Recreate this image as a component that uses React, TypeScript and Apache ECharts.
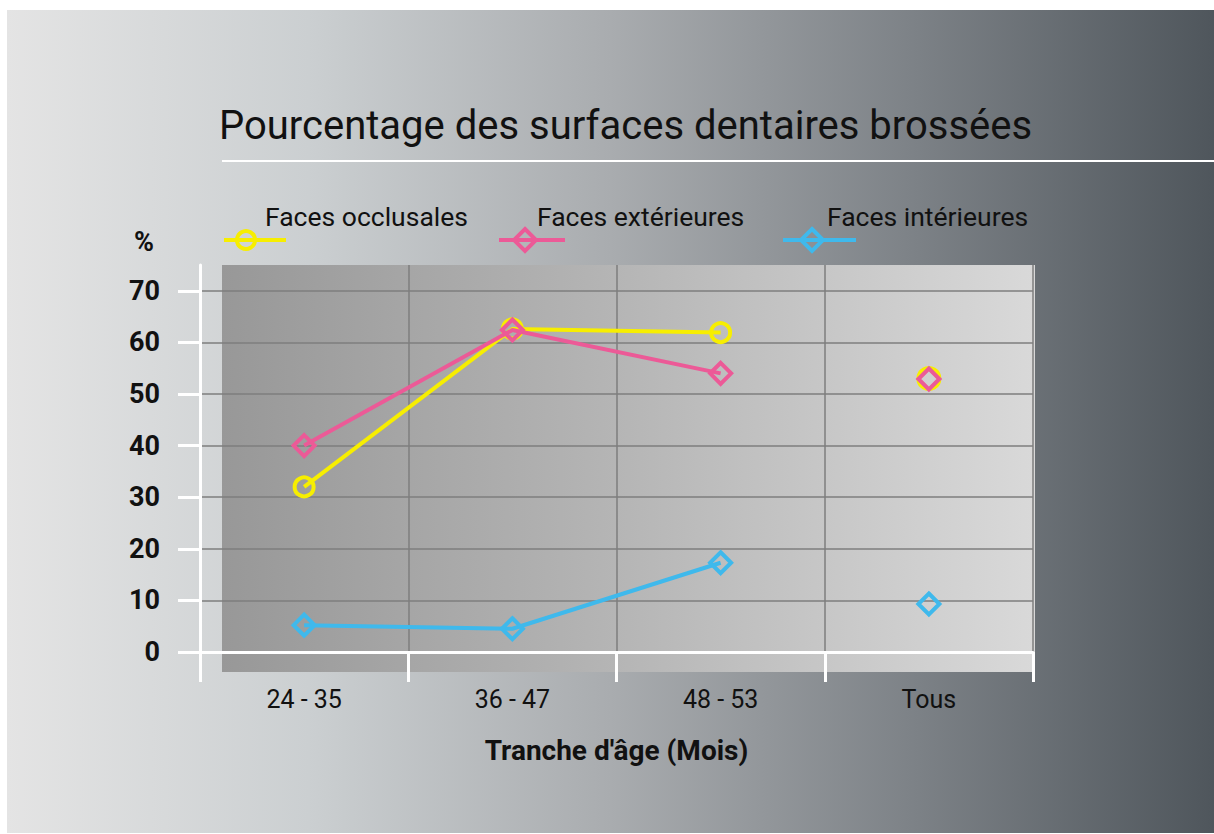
import React, { useEffect, useRef } from "react";
import * as echarts from "echarts";

const categories = ["24 - 35", "36 - 47", "48 - 53", "Tous"];
const seriesNames = ["Faces occlusales", "Faces extérieures", "Faces intérieures"];
const occlusales = [32, 62.6, 61.9, 53];
const exterieures = [40, 62.4, 54, 52.9];
const interieures = [5.2, 4.5, 17.3, 9.3];
const yTicks = [0, 10, 20, 30, 40, 50, 60, 70];

const YELLOW = "#f7ee00";
const PINK = "#ec5a97";
const BLUE = "#3fb9ec";
const FONT = "Roboto";

function lineData(v: number[]) {
  return v.map((x, i) => (i < 3 ? x : "-"));
}
function tousData(v: number[]) {
  return v.map((x, i) => (i === 3 ? x : "-"));
}

function diamond(cx: number, cy: number, r: number) {
  return [
    [cx, cy - r],
    [cx + r, cy],
    [cx, cy + r],
    [cx - r, cy],
  ];
}

export default function App() {
  const ref = useRef<HTMLDivElement>(null);
  useEffect(() => {
    if (!ref.current) return;
    const chart = echarts.init(ref.current, null, { renderer: "svg" });
    const mk = (name: string, data: number[], color: string, symbol: string, size: number, z: number, tous: boolean) => ({
      name,
      type: "line",
      data: tous ? tousData(data) : lineData(data),
      symbol,
      symbolSize: size,
      showAllSymbol: true,
      z,
      lineStyle: { color, width: 4 },
      itemStyle: { color: "rgba(0,0,0,0)", borderColor: color, borderWidth: 4 },
      emphasis: { disabled: true },
    });
    const legendItem = (x1: number, x2: number, sx: number, y: number, tx: number, text: string, color: string, kind: string) => {
      const els: any[] = [
        { type: "line", shape: { x1, y1: y, x2, y2: y }, style: { stroke: color, lineWidth: 4 }, z: 10 },
      ];
      if (kind === "circle") {
        els.push({ type: "circle", shape: { cx: sx, cy: y, r: 9 }, style: { fill: "none", stroke: color, lineWidth: 4 }, z: 11 });
      } else {
        els.push({ type: "polygon", shape: { points: diamond(sx, y, 11) }, style: { fill: "none", stroke: color, lineWidth: 4 }, z: 11 });
      }
      els.push({
        type: "text",
        x: tx,
        y: 216,
        style: { text, fill: "#111", fontFamily: FONT, fontSize: 26.5, verticalAlign: "middle" },
        z: 11,
      });
      return els;
    };
    chart.setOption({
      animation: false,
      title: {
        text: "Pourcentage des surfaces dentaires brossées",
        left: 219,
        top: 105,
        padding: 0,
        textStyle: { fontFamily: FONT, fontSize: 40, fontWeight: "normal", color: "#111" },
      },
      grid: { left: 200, right: 181, top: 265, bottom: 182, containLabel: false },
      xAxis: {
        type: "category",
        data: categories,
        boundaryGap: true,
        axisLine: { onZero: true, lineStyle: { color: "#ffffff", width: 3 } },
        axisTick: { show: true, length: 30, lineStyle: { color: "#ffffff", width: 3 } },
        axisLabel: { fontFamily: FONT, fontSize: 25, color: "#111", margin: 35 },
        splitLine: { show: true, lineStyle: { color: "#7e7e7e", width: 1.5 } },
        name: "Tranche d'âge (Mois)",
        nameLocation: "middle",
        nameGap: 84,
        nameTextStyle: { fontFamily: FONT, fontSize: 28, fontWeight: "bold", color: "#111" },
      },
      yAxis: {
        type: "value",
        min: 0,
        max: 75,
        interval: 10,
        axisLine: { show: true, lineStyle: { color: "#ffffff", width: 3 } },
        axisTick: { show: true, length: 22, customValues: yTicks, lineStyle: { color: "#ffffff", width: 3 } },
        axisLabel: { customValues: yTicks, fontFamily: FONT, fontSize: 27, fontWeight: "bold", color: "#111", margin: 40 },
        splitLine: { show: true, lineStyle: { color: "#7e7e7e", width: 1.5 } },
      },
      graphic: [
        {
          type: "rect",
          shape: { x: 7, y: 10, width: 1207, height: 823 },
          style: {
            fill: new echarts.graphic.LinearGradient(0, 0, 1, 0, [
              { offset: 0, color: "#e4e4e4" },
              { offset: 0.25, color: "#cbcfd1" },
              { offset: 0.5, color: "#a9acaf" },
              { offset: 0.75, color: "#7d8287" },
              { offset: 1, color: "#4f565c" },
            ]),
          },
          z: -100,
          silent: true,
        },
        {
          type: "rect",
          shape: { x: 222, y: 265, width: 813, height: 407 },
          style: {
            fill: new echarts.graphic.LinearGradient(0, 0, 1, 0, [
              { offset: 0, color: "#989898" },
              { offset: 0.5, color: "#b6b6b6" },
              { offset: 1, color: "#d9d9d9" },
            ]),
          },
          z: -90,
          silent: true,
        },
        { type: "line", shape: { x1: 222, y1: 161, x2: 1214, y2: 161 }, style: { stroke: "#ffffff", lineWidth: 2 }, z: 5 },
        {
          type: "text",
          x: 144,
          y: 242,
          style: { text: "%", fill: "#111", fontFamily: FONT, fontSize: 27, fontWeight: "bold", align: "center", verticalAlign: "middle" },
          z: 5,
        },
        ...legendItem(224, 286, 246, 240, 265, seriesNames[0], YELLOW, "circle"),
        ...legendItem(499, 565, 525, 240, 537, seriesNames[1], PINK, "diamond"),
        ...legendItem(783, 856, 812, 240, 827, seriesNames[2], BLUE, "diamond"),
      ],
      series: [
        mk(seriesNames[0], occlusales, YELLOW, "circle", 19, 3, false),
        mk(seriesNames[1], exterieures, PINK, "diamond", 21, 4, false),
        mk(seriesNames[2], interieures, BLUE, "diamond", 21, 5, false),
        mk(seriesNames[0] + " ", occlusales, YELLOW, "circle", 21, 3, true),
        mk(seriesNames[1] + " ", exterieures, PINK, "diamond", 21, 4, true),
        mk(seriesNames[2] + " ", interieures, BLUE, "diamond", 21, 5, true),
      ],
    });
    return () => chart.dispose();
  }, []);
  return (
    <div
      ref={ref}
      style={{ position: "absolute", left: 0, top: 0, width: 1214, height: 834 }}
    />
  );
}
